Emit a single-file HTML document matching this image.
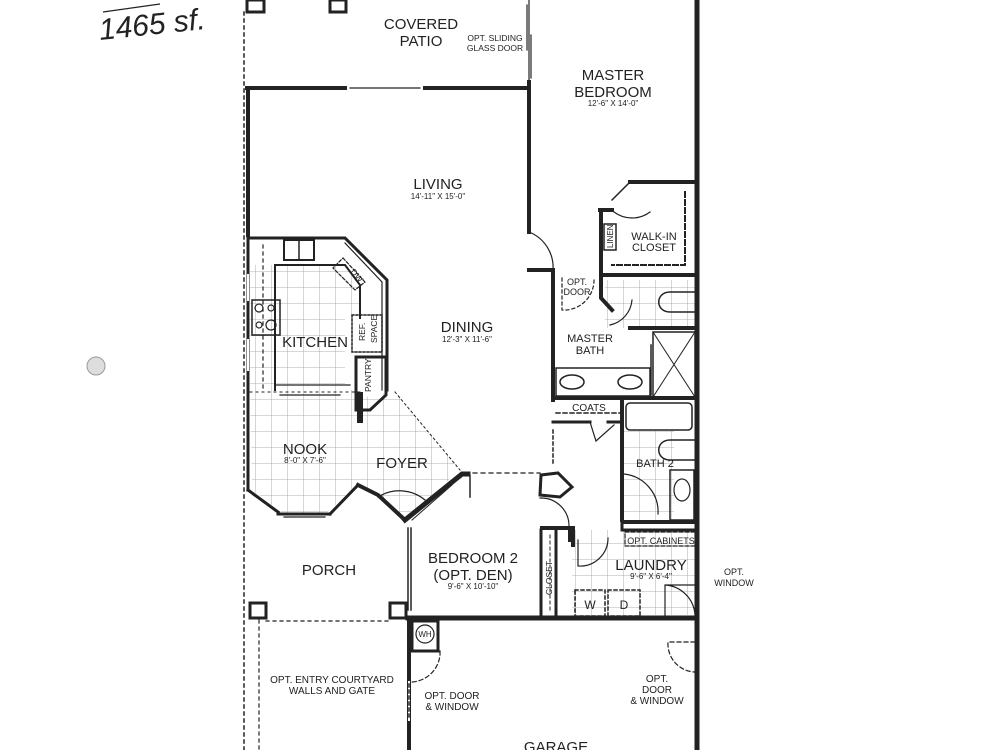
<!DOCTYPE html>
<html><head><meta charset="utf-8"><style>
html,body{margin:0;padding:0;background:#fff;}
svg{display:block}
text{font-family:"Liberation Sans",sans-serif;fill:#222}
</style></head><body>
<svg width="1000" height="750" viewBox="0 0 1000 750" xmlns="http://www.w3.org/2000/svg">
<defs>
<pattern id="tile" width="16" height="16" patternUnits="userSpaceOnUse">
<path d="M16 0V16M0 16H16" stroke="#999" stroke-width="0.8" fill="none"/>
</pattern>
</defs>
<!-- tiles -->
<polygon points="275,265 345,265 360,285 360,315 345,315 345,390 250,390 250,265" fill="url(#tile)"/>
<polygon points="250,390 360,390 360,398 395,392 460,470 405,520 372,488 352,490 325,515 285,515 252,490" fill="url(#tile)"/>
<rect x="605" y="280" width="90" height="48" fill="url(#tile)"/>
<rect x="622" y="430" width="52" height="90" fill="url(#tile)"/>
<rect x="572" y="530" width="125" height="85" fill="url(#tile)"/>

<g stroke="#222" fill="none" stroke-linecap="square">
<!-- patio -->
<rect x="247" y="0" width="17" height="12" stroke-width="3"/>
<rect x="330" y="0" width="16" height="12" stroke-width="3"/>
<line x1="244" y1="12" x2="244" y2="750" stroke-width="1.5" stroke-dasharray="3,4"/>
<line x1="529" y1="0" x2="529" y2="82" stroke-width="1.2"/>
<line x1="527" y1="5" x2="527" y2="50" stroke-width="1.2"/>
<line x1="531" y1="35" x2="531" y2="78" stroke-width="1.2"/>
<!-- living top wall -->
<path d="M247 88H345M425 88H528" stroke-width="4"/>
<path d="M350 88H420" stroke-width="1.2"/>
<!-- left living wall -->
<path d="M248 88V235" stroke-width="4"/>
<path d="M248 235V490" stroke-width="3"/>
<line x1="248" y1="275" x2="248" y2="300" stroke="#fff" stroke-width="2"/>
<line x1="248" y1="340" x2="248" y2="370" stroke="#fff" stroke-width="2"/>
<!-- master bedroom -->
<path d="M529 82V232" stroke-width="4"/>
<path d="M529 232A38 38 0 0 1 553 270" stroke-width="1.2"/>
<path d="M529 270H553V400" stroke-width="4"/>
<path d="M697 0V750" stroke-width="5"/>
<!-- walk-in closet -->
<path d="M640 182L630 182L612 200" stroke-width="1.5"/>
<path d="M630 182H697" stroke-width="4"/>
<path d="M600 210H612" stroke-width="4"/>
<path d="M601 210V298L612 310" stroke-width="4"/>
<path d="M614 212A30 30 0 0 0 650 212" stroke-width="1.2"/>
<path d="M685 192V265H612" stroke-width="2" stroke-dasharray="5,3"/>
<path d="M601 275H697" stroke-width="4"/>
<rect x="604" y="224" width="12" height="26" stroke-width="1.5"/>
<path d="M630 328H697" stroke-width="4"/>
<path d="M632 300A28 28 0 0 1 610 325" stroke-width="1.2"/>
<!-- toilets -->
<path d="M695 292H670C655 292 655 312 670 312H695" stroke-width="1.5"/>
<path d="M695 440H670C655 440 655 460 670 460H695" stroke-width="1.5"/>
<!-- shower -->
<rect x="653" y="332" width="42" height="65" stroke-width="1.5"/>
<path d="M653 332L695 397M695 332L653 397" stroke-width="1"/>
<path d="M651 345V395" stroke-width="1.5"/>
<!-- opt door master bath -->
<path d="M562 278V310A30 30 0 0 0 594 280" stroke-width="1.2" stroke-dasharray="3,3"/>
<!-- vanity -->
<rect x="556" y="368" width="94" height="28" stroke-width="1.5"/>
<ellipse cx="572" cy="382" rx="12" ry="7" stroke-width="1.5"/>
<ellipse cx="630" cy="382" rx="12" ry="7" stroke-width="1.5"/>
<path d="M553 398H697" stroke-width="4"/>
<!-- coats -->
<path d="M556 413H622" stroke-width="1.5" stroke-dasharray="4,3"/>
<path d="M553 422H590M608 422H622" stroke-width="3"/>
<path d="M590 422L596 441L614 425" stroke-width="1.2"/>
<path d="M622 398V520" stroke-width="4"/>
<!-- bath2 -->
<rect x="626" y="403" width="66" height="27" rx="4" stroke-width="1.5"/>
<rect x="670" y="470" width="24" height="50" stroke-width="1.5"/>
<ellipse cx="682" cy="490" rx="8" ry="11" stroke-width="1.2"/>
<path d="M624 474A38 38 0 0 1 658 514" stroke-width="1.2"/>
<path d="M624 522H697" stroke-width="4"/>
<!-- hall -->
<path d="M553 430V465" stroke-width="1.5" stroke-dasharray="3,3"/>
<path d="M541 475L558 473L572 487L560 497L540 495Z" stroke-width="3"/>
<path d="M540 498A28 28 0 0 1 569 527" stroke-width="1.2"/>
<path d="M542 528H570V538M570 528V540" stroke-width="4"/>
<path d="M573 528V545" stroke-width="4"/>
<!-- bedroom2 dashed entry -->
<path d="M465 473H540" stroke-width="1.2" stroke-dasharray="4,4"/>
<!-- closet -->
<path d="M541 530V615M556 530V615" stroke-width="3"/>
<path d="M550 535V612" stroke-width="1" stroke-dasharray="3,3"/>
<!-- laundry -->
<path d="M622 520V530H697" stroke-width="3"/>
<rect x="625" y="532" width="70" height="14" stroke-width="1.2" stroke-dasharray="4,2"/>
<path d="M578 540V566A28 28 0 0 0 608 538" stroke-width="1.2"/>
<rect x="575" y="590" width="30" height="26" stroke-width="1.5" stroke-dasharray="3,3"/>
<rect x="608" y="590" width="32" height="26" stroke-width="1.5" stroke-dasharray="3,3"/>
<path d="M695 585H665V615M665 585A32 32 0 0 1 695 615" stroke-width="1.2"/>
<!-- kitchen -->
<path d="M250 238H345L387 280V390" stroke-width="3"/>
<path d="M345 243L382 282V390" stroke-width="1.2"/>
<path d="M275 265H345L360 285V318" stroke-width="2"/>
<path d="M275 265V390" stroke-width="2"/>
<path d="M263 245V390" stroke-width="1.2" stroke-dasharray="3,4"/>
<rect x="284" y="240" width="30" height="20" stroke-width="2"/>
<path d="M299 240V260" stroke-width="1.5"/>
<path d="M343 258L365 282L355 290L333 268Z" stroke-width="1.2" stroke-dasharray="3,2"/>
<rect x="252" y="300" width="28" height="35" stroke-width="1.5"/>
<circle cx="259" cy="308" r="4" stroke-width="1.2"/><circle cx="271" cy="308" r="3" stroke-width="1.2"/>
<circle cx="259" cy="325" r="3" stroke-width="1.2"/><circle cx="271" cy="325" r="5" stroke-width="1.2"/>
<rect x="352" y="315" width="30" height="37" stroke-width="1.5" stroke-dasharray="2,2"/>
<path d="M356 357H386V395L370 410H356Z" stroke-width="3"/>
<path d="M360 395V420" stroke-width="6"/>
<path d="M275 385H350M280 395H340" stroke-width="1.2"/>
<path d="M250 392H360" stroke-width="1" stroke-dasharray="2,4"/>
<path d="M395 392L460 470" stroke-width="1" stroke-dasharray="2,3"/>
<!-- nook bay -->
<path d="M248 490L278 512" stroke-width="3"/>
<path d="M253 495L283 515" stroke-width="1"/>
<path d="M278 514H330" stroke-width="3"/>
<path d="M284 517H325" stroke-width="1.2"/>
<path d="M330 514L358 485" stroke-width="3"/>
<path d="M358 485L378 495L405 520" stroke-width="4"/>
<path d="M378 497A40 40 0 0 1 425 500" stroke-width="1.2"/>
<path d="M405 520L462 474L468 474" stroke-width="5"/>
<path d="M412 520L452 485" stroke-width="1"/>
<path d="M470 476V497" stroke-width="1.5"/>
<!-- bedroom2 left wall -->
<path d="M408 528V610" stroke-width="1.5"/>
<path d="M411 528V610" stroke-width="1.5"/>
<!-- porch posts -->
<rect x="250" y="603" width="16" height="15" stroke-width="3"/>
<rect x="390" y="603" width="16" height="15" stroke-width="3"/>
<path d="M266 621H392" stroke-width="1.2" stroke-dasharray="3,4"/>
<path d="M259 620V750" stroke-width="1.2" stroke-dasharray="3,4"/>
<!-- garage -->
<path d="M408 618H697" stroke-width="5"/>
<path d="M409 618V750" stroke-width="4"/>
<line x1="409" y1="682" x2="409" y2="720" stroke="#fff" stroke-width="2"/>
<path d="M409 684V718" stroke-width="1.5" stroke-dasharray="3,3"/>
<rect x="412" y="621" width="26" height="30" stroke-width="3"/>
<circle cx="425" cy="634" r="9" stroke-width="1.2"/>
<path d="M412 651H440V655A30 30 0 0 1 412 682" stroke-width="1.2" stroke-dasharray="4,3"/>
<path d="M695 642H668A28 28 0 0 0 695 672" stroke-width="1.2" stroke-dasharray="4,3"/>
</g>

<!-- labels -->
<g text-anchor="middle">
<text x="421" y="29" font-size="15">COVERED</text>
<text x="421" y="46" font-size="15">PATIO</text>
<text x="495" y="41" font-size="8.5">OPT. SLIDING</text>
<text x="495" y="51" font-size="8.5">GLASS DOOR</text>
<text x="613" y="80" font-size="15">MASTER</text>
<text x="613" y="97" font-size="15">BEDROOM</text>
<text x="613" y="106" font-size="8">12'-6" X 14'-0"</text>
<text x="438" y="189" font-size="15">LIVING</text>
<text x="438" y="199" font-size="8">14'-11" X 15'-0"</text>
<text x="654" y="240" font-size="11">WALK-IN</text>
<text x="654" y="251" font-size="11">CLOSET</text>
<text x="577" y="285" font-size="9">OPT.</text>
<text x="577" y="295" font-size="9">DOOR</text>
<text x="467" y="332" font-size="15">DINING</text>
<text x="467" y="342" font-size="8">12'-3" X 11'-6"</text>
<text x="315" y="347" font-size="15">KITCHEN</text>
<text x="590" y="342" font-size="11">MASTER</text>
<text x="590" y="354" font-size="11">BATH</text>
<text x="589" y="411" font-size="10">COATS</text>
<text x="305" y="454" font-size="15">NOOK</text>
<text x="305" y="463" font-size="8">8'-0" X 7'-6"</text>
<text x="402" y="468" font-size="15">FOYER</text>
<text x="655" y="467" font-size="11">BATH 2</text>
<text x="661" y="544" font-size="9">OPT. CABINETS</text>
<text x="473" y="563" font-size="15">BEDROOM 2</text>
<text x="473" y="580" font-size="15">(OPT. DEN)</text>
<text x="473" y="589" font-size="8">9'-6" X 10'-10"</text>
<text x="329" y="575" font-size="15">PORCH</text>
<text x="651" y="570" font-size="15">LAUNDRY</text>
<text x="651" y="579" font-size="8">9'-6" X 6'-4"</text>
<text x="590" y="609" font-size="12">W</text>
<text x="624" y="609" font-size="12">D</text>
<text x="734" y="575" font-size="9">OPT.</text>
<text x="734" y="586" font-size="9">WINDOW</text>
<text x="425" y="637" font-size="8">WH</text>
<text x="332" y="683" font-size="10">OPT. ENTRY COURTYARD</text>
<text x="332" y="694" font-size="10">WALLS AND GATE</text>
<text x="452" y="699" font-size="10">OPT. DOOR</text>
<text x="452" y="710" font-size="10">&amp; WINDOW</text>
<text x="657" y="682" font-size="10">OPT.</text>
<text x="657" y="693" font-size="10">DOOR</text>
<text x="657" y="704" font-size="10">&amp; WINDOW</text>
<text x="556" y="752" font-size="15">GARAGE</text>
</g>
<text font-size="8" transform="translate(613,248) rotate(-90)">LINEN</text>
<text font-size="8.5" transform="translate(365,341) rotate(-90)">REF.</text>
<text font-size="8.5" transform="translate(377,343) rotate(-90)">SPACE</text>
<text font-size="8.5" transform="translate(371,392) rotate(-90)">PANTRY</text>
<text font-size="8.5" transform="translate(552,595) rotate(-90)">CLOSET</text>
<text font-size="8.5" transform="translate(350,272) rotate(50)">DW</text>
<!-- handwriting -->
<path d="M103 12L160 4" stroke="#222" stroke-width="1.2" fill="none"/>
<text x="100" y="40" font-size="30" font-family="Liberation Serif,serif" font-style="italic" transform="rotate(-6 100 40)" style="fill:#222">1465 sf.</text>
<!-- hole punch -->
<circle cx="96" cy="366" r="9" fill="#ddd" stroke="#999"/>
</svg>
</body></html>
